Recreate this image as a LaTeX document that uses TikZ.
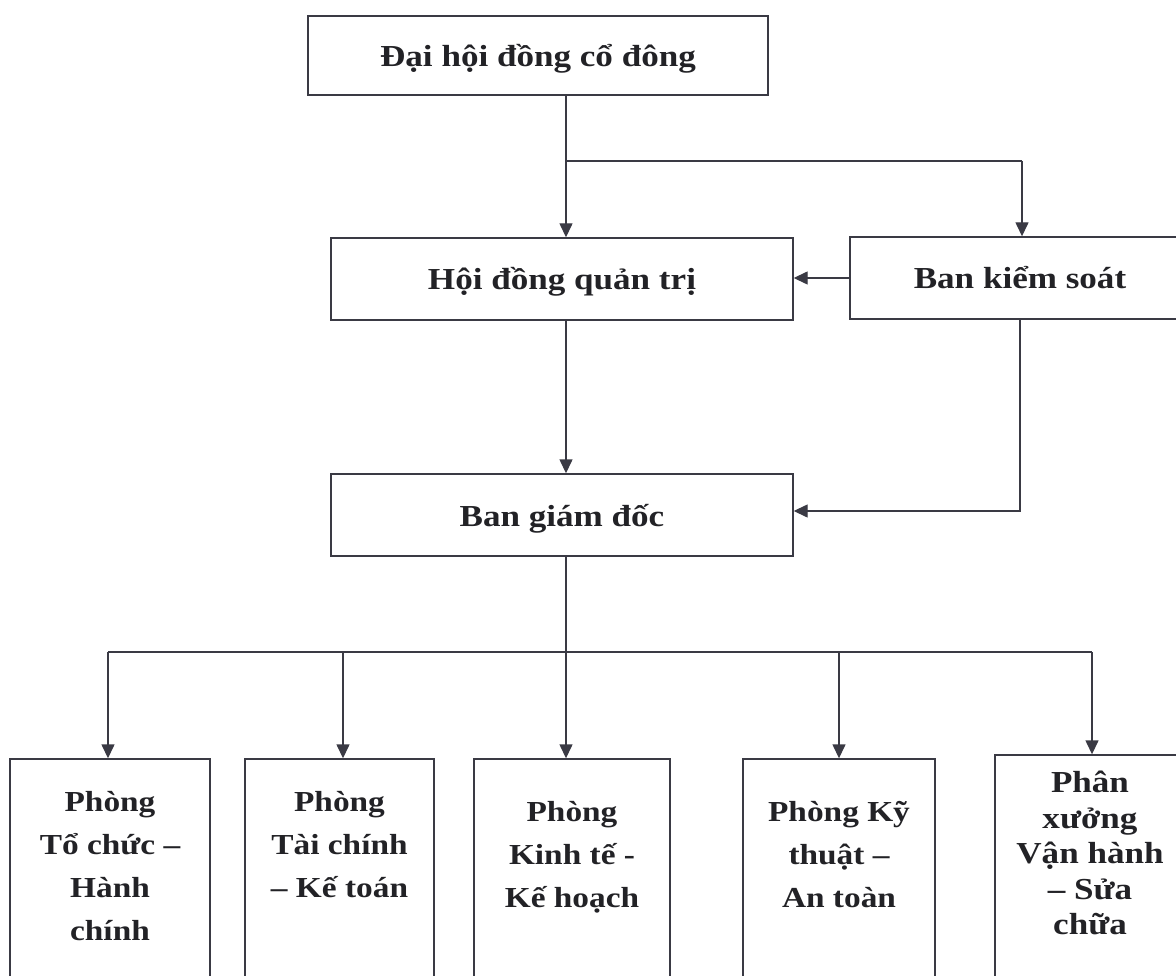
\documentclass[tikz,border=0pt]{standalone}
\usepackage{fontspec}
\setmainfont{Liberation Serif}[FakeStretch=1.15]
\usetikzlibrary{arrows.meta}
\definecolor{linec}{HTML}{3A3A44}
\definecolor{txt}{HTML}{222226}
\begin{document}
\begin{tikzpicture}[x=1pt,y=-1pt,
  box/.style={draw=linec, line width=1.4pt, inner sep=0pt, fill=white},
  headbox/.style={box, font=\fontsize{30.5}{36}\selectfont\bfseries, text=txt, text height=24pt, text depth=2pt},
  lbl/.style={inner sep=0pt, anchor=north, align=center, text=txt, font=\fontsize{29}{43}\selectfont\bfseries},
  lblb/.style={lbl, font=\fontsize{30.5}{35.5}\selectfont\bfseries},
  arr/.style={draw=linec, line width=1.4pt, -{Triangle[length=14pt,width=13pt]}},
  ln/.style={draw=linec, line width=1.4pt}]
\useasboundingbox (0,0) rectangle (1176,976);
\clip (0,0) rectangle (1176,976);

\node[headbox, minimum width=460pt, minimum height=79pt] (dh) at (538,55.5) {Đại hội đồng cổ đông};
\node[headbox, minimum width=462pt, minimum height=82pt] (hd) at (562,279) {Hội đồng quản trị};
\node[headbox, minimum width=340pt, minimum height=82pt] (bks) at (1020,278) {Ban kiểm soát};
\node[headbox, minimum width=462pt, minimum height=82pt] (bgd) at (562,515) {Ban giám đốc};

\node[box, minimum width=200pt, minimum height=241pt] (p1) at (110,879.5) {};
\node[box, minimum width=189pt, minimum height=241pt] (p2) at (339.5,879.5) {};
\node[box, minimum width=196pt, minimum height=241pt] (p3) at (572,879.5) {};
\node[box, minimum width=192pt, minimum height=241pt] (p4) at (839,879.5) {};
\node[box, minimum width=190pt, minimum height=245pt] (p5) at (1090,877.5) {};

\node[lbl] (t1) at (110,791) {Phòng\\Tổ chức –\\Hành\\chính};
\node[lbl] (t2) at (339.5,791) {Phòng\\Tài chính\\– Kế toán};
\node[lbl] (t3) at (572,801) {Phòng\\Kinh tế -\\Kế hoạch};
\node[lbl] (t4) at (839,801) {Phòng Kỹ\\thuật –\\An toàn};
\node[lblb] (t5) at (1090,771) {Phân\\xưởng\\Vận hành\\– Sửa\\chữa};

\coordinate (s1) at (566,161);
\coordinate (s2) at (1022,161);
\draw[ln] (dh.south -| s1) -- (s1) -- (s2);
\draw[arr] (s1) -- (hd.north -| s1);
\draw[arr] (s2) -- (bks.north -| s2);
\draw[arr] (bks.west) -- (bks.west -| hd.east);
\draw[arr] (hd.south -| s1) -- (bgd.north -| s1);
\coordinate (k1) at (1020,511);
\draw[arr] (bks.south -| k1) -- (k1) -- (k1 -| bgd.east);

\coordinate (b1) at (108,652);
\coordinate (b2) at (343,652);
\coordinate (b3) at (566,652);
\coordinate (b4) at (839,652);
\coordinate (b5) at (1092,652);
\draw[ln] (bgd.south -| b3) -- (b3);
\draw[ln] (b1) -- (b5);
\draw[arr] (b1) -- (p1.north -| b1);
\draw[arr] (b2) -- (p2.north -| b2);
\draw[arr] (b3) -- (p3.north -| b3);
\draw[arr] (b4) -- (p4.north -| b4);
\draw[arr] (b5) -- (p5.north -| b5);
\end{tikzpicture}
\end{document}
